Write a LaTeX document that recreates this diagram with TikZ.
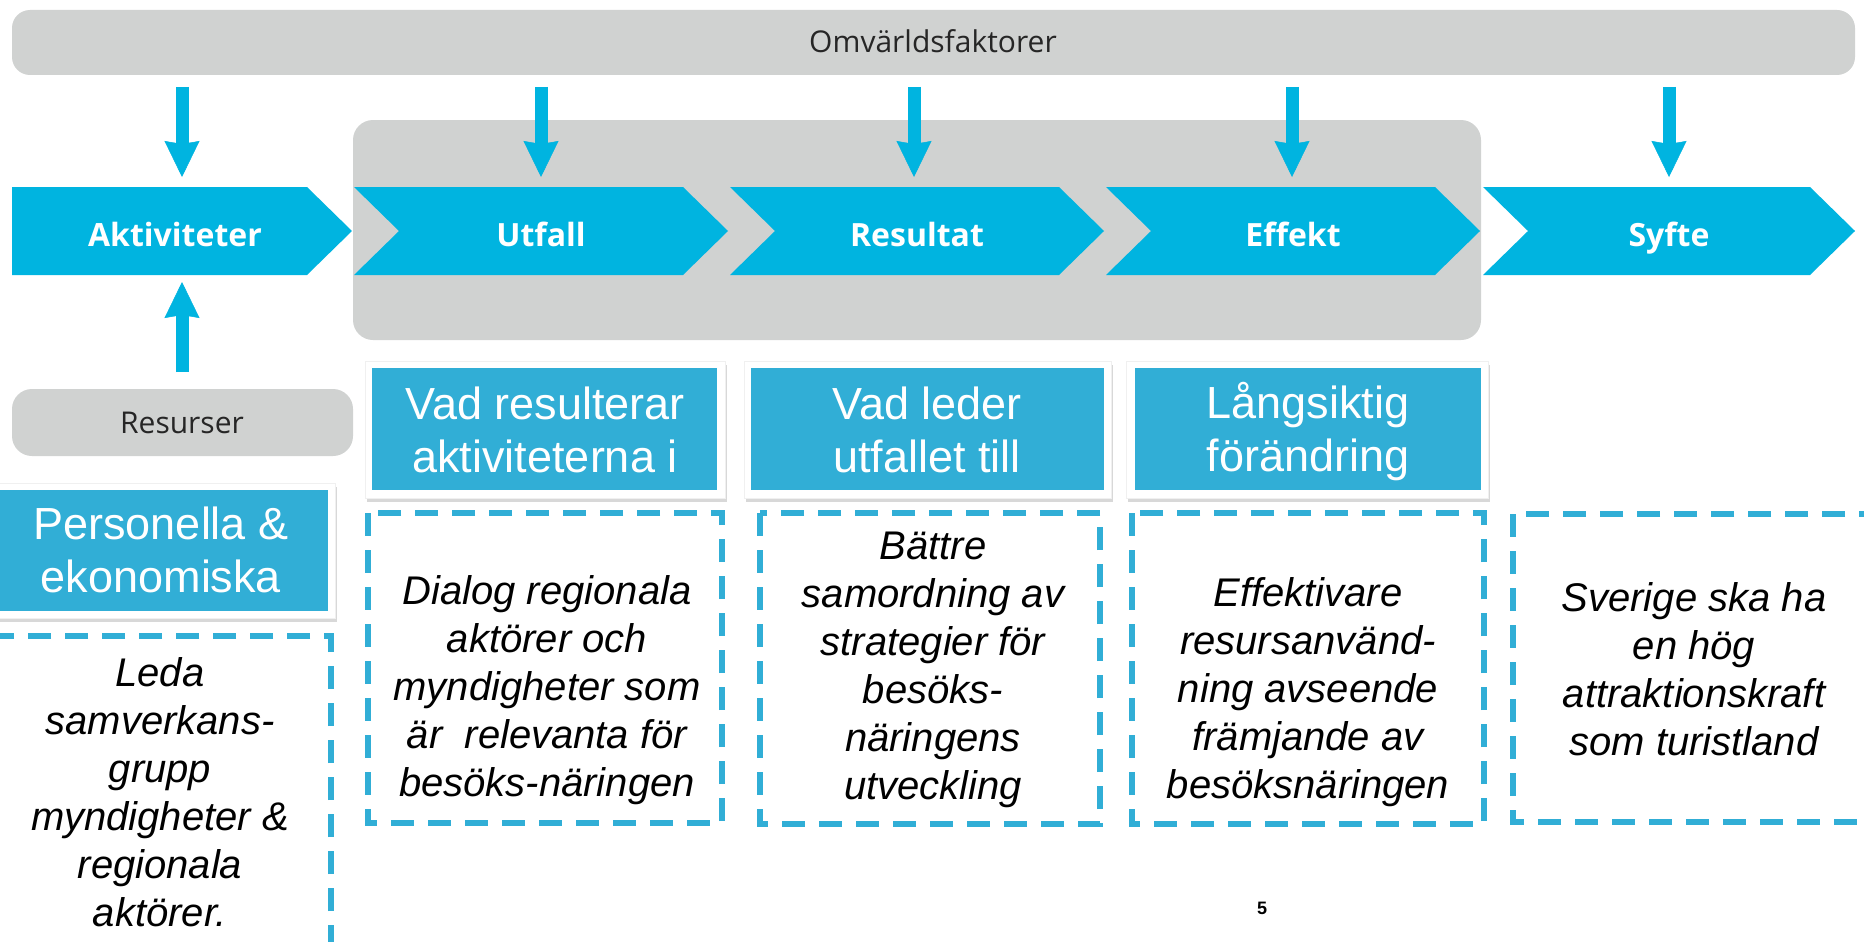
\documentclass[tikz,border=0pt]{standalone}
\usepackage{fontspec}
\setmainfont{Liberation Sans}
\newfontfamily\osans{Open Sans}
\usetikzlibrary{arrows.meta,shadows}
\definecolor{chevblue}{HTML}{00B4E0}
\definecolor{boxblue}{HTML}{31AED6}
\definecolor{lgray}{HTML}{D0D2D1}
\definecolor{dgray}{HTML}{262626}
\begin{document}
\begin{tikzpicture}[x=1pt,y=-1pt,
  chevstyle/.style={fill=chevblue},
  graybox/.style={fill=lgray, rounded corners=18pt},
  hdrouter/.style={fill=white, draw=black!6, line width=1pt, drop shadow={shadow xshift=1.5pt, shadow yshift=-4pt, opacity=0.3}},
  hdrinner/.style={fill=boxblue},
  dashbox/.style={draw=boxblue, line width=5.5pt, dash pattern=on 23pt off 14pt},
  arr/.style={draw=chevblue, line width=13pt, -{Stealth[length=36pt,width=35pt,inset=3pt,line width=0.5pt]}},
  chevlabel/.style={text=white, font=\osans\bfseries\fontsize{32}{38}\selectfont, anchor=base, inner sep=0pt},
  graylabel/.style={text=dgray, font=\osans\fontsize{30}{36}\selectfont, anchor=base, inner sep=0pt},
  hdrtext/.style={text=white, font=\fontsize{45}{53}\selectfont, align=center, inner sep=0pt},
  bodytext/.style={text=black, font=\itshape\fontsize{40}{48}\selectfont, align=center, inner sep=0pt},
]
\clip (0,0) rectangle (1864,942);
\fill[white] (0,0) rectangle (1864,942);

% top bar
\fill[graybox] (12,10) rectangle (1855,75);
\node[graylabel] (omv) at (933,53) {Omvärldsfaktorer};

% big gray background
\fill[graybox, rounded corners=20pt] (353,120) rectangle (1481,340);

% chevrons
\fill[chevstyle] (12,187) -- (307,187) -- (352,231) -- (307,275) -- (12,275) -- cycle;
\fill[chevstyle] (354,187) -- (683,187) -- (728,231) -- (683,275) -- (354,275) -- (399,231) -- cycle;
\fill[chevstyle] (730,187) -- (1059,187) -- (1104,231) -- (1059,275) -- (730,275) -- (775,231) -- cycle;
\fill[chevstyle] (1106,187) -- (1435,187) -- (1480,231) -- (1435,275) -- (1106,275) -- (1151,231) -- cycle;
\fill[chevstyle] (1483,187) -- (1810,187) -- (1855,231) -- (1810,275) -- (1483,275) -- (1528,231) -- cycle;
\node[chevlabel] (c1) at (175,246) {Aktiviteter};
\node[chevlabel] (c2) at (541,246) {Utfall};
\node[chevlabel] (c3) at (917,246) {Resultat};
\node[chevlabel] (c4) at (1293,246) {Effekt};
\node[chevlabel] (c5) at (1669,246) {Syfte};

% arrows
\coordinate (d1s) at (182,87);  \coordinate (d1e) at (182,177);
\coordinate (d2s) at (541,87);  \coordinate (d2e) at (541,177);
\coordinate (d3s) at (914,87);  \coordinate (d3e) at (914,177);
\coordinate (d4s) at (1292,87); \coordinate (d4e) at (1292,177);
\coordinate (d5s) at (1669,87); \coordinate (d5e) at (1669,177);
\coordinate (u1s) at (182,372); \coordinate (u1e) at (182,282);
\draw[arr] (d1s) -- (d1e);
\draw[arr] (d2s) -- (d2e);
\draw[arr] (d3s) -- (d3e);
\draw[arr] (d4s) -- (d4e);
\draw[arr] (d5s) -- (d5e);
\draw[arr] (u1s) -- (u1e);

% Resurser
\fill[graybox, rounded corners=20pt] (12,389) rectangle (353,456);
\node[graylabel] (res) at (182,433) {Resurser};

% header boxes
\path[hdrouter] (365,361) rectangle (725,498);
\fill[hdrinner] (372,368) rectangle (717,490);
\node[hdrtext] (h1) at (545,430) {Vad resulterar\\aktiviteterna i};
\path[hdrouter] (744,361) rectangle (1111,498);
\fill[hdrinner] (751,368) rectangle (1104,490);
\node[hdrtext] (h2) at (927,430) {Vad leder\\utfallet till};
\path[hdrouter] (1126,361) rectangle (1488,498);
\fill[hdrinner] (1135,368) rectangle (1481,490);
\node[hdrtext] (h3) at (1308,432) {Långsiktig\\förändring};
\path[hdrouter] (-10,483) rectangle (335,618);
\fill[hdrinner] (-10,490) rectangle (328,611);
\node[hdrtext] (p1) at (161,550) {Personella \&\\ekonomiska};

% dashed boxes
\draw[dashbox] (368,513) rectangle (722,823);
\draw[dashbox] (760,513) rectangle (1100,824);
\draw[dashbox] (1132,513) rectangle (1484,824);
\draw[dashbox] (1513,514) rectangle (2000,822);
\draw[dashbox] (-30,636) rectangle (331,1000);

\node[bodytext] (t1) at (547,690) {Dialog regionala\\aktörer och\\myndigheter som\\är~ relevanta för\\besöks-näringen};
\node[bodytext] (t2) at (933,670) {Bättre\\samordning av\\strategier för\\besöks-\\näringens\\utveckling};
\node[bodytext] (t3) at (1308,692) {Effektivare\\resursanvänd-\\ning avseende\\främjande av\\besöksnäringen};
\node[bodytext] (t4) at (1694,669) {Sverige ska ha\\en hög\\attraktionskraft\\som turistland};
\node[bodytext] (t0) at (160,792) {Leda\\samverkans-\\grupp\\myndigheter \&\\regionala\\aktörer.};

\node[font=\bfseries\fontsize{18}{20}\selectfont, inner sep=0pt] (pg) at (1262,908) {5};
\end{tikzpicture}
\end{document}
